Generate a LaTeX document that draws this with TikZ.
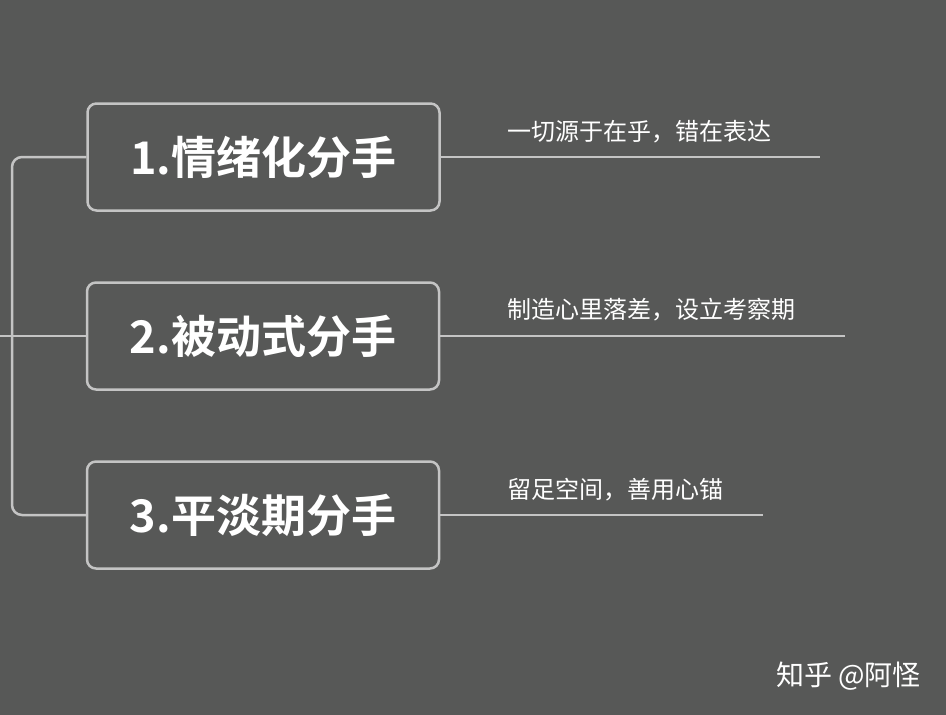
\documentclass[tikz,border=0pt]{standalone}
\usepackage{fontspec}
\setmainfont{Noto Sans CJK SC}
\newfontfamily\cjkb{Noto Sans CJK SC Bold}
\definecolor{bg}{HTML}{575857}
\definecolor{ln}{HTML}{C4C4C4}
\begin{document}
\begin{tikzpicture}[x=1pt,y=-1pt,
  box/.style={draw=ln,line width=2.5pt,rounded corners=9pt,minimum width=352pt,minimum height=107pt,text=white,font=\cjkb\fontsize{45}{48}\selectfont,inner sep=0pt},
  lbl/.style={anchor=south west,text=white,font=\fontsize{24}{27}\selectfont,inner sep=0pt},
  con/.style={draw=ln,line width=2.5pt}]
\fill[bg] (0,0) rectangle (946,715);
\useasboundingbox (0,0) rectangle (946,715);
\node[box] (b1) at (263.5,157) {1.情绪化分手};
\node[box] (b2) at (263,336) {2.被动式分手};
\node[box] (b3) at (263,515) {3.平淡期分手};
\coordinate (r1) at (820,157);
\coordinate (r2) at (845,336);
\coordinate (r3) at (763,515);
\coordinate (l0) at (0,336);
\draw[con] (b1.east) -- (r1);
\draw[con] (b2.east) -- (r2);
\draw[con] (b3.east) -- (r3);
\draw[con,rounded corners=10pt] (b1.west) -- (12,157) -- (12,515) -- (b3.west);
\draw[con] (l0) -- (b2.west);
\node[lbl] (t1) at (507,143) {一切源于在乎，错在表达};
\node[lbl] (t2) at (507,321) {制造心里落差，设立考察期};
\node[lbl] (t3) at (507,501) {留足空间，善用心锚};
\node[text=white,font=\fontsize{28}{30}\selectfont,anchor=east,inner sep=0pt] (wm) at (921,676) {知乎 @阿怪};
\end{tikzpicture}
\end{document}
